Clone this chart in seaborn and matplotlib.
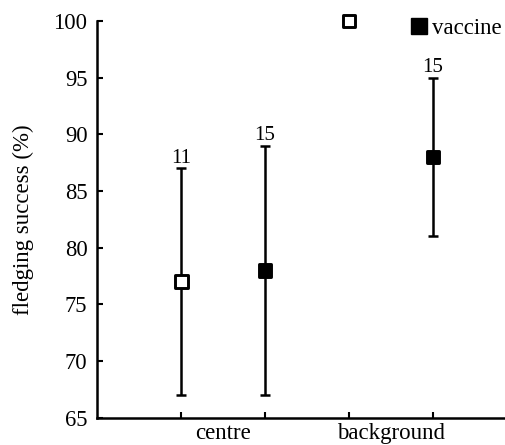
import seaborn as sns
import pandas as pd
import matplotlib.pyplot as plt
from matplotlib.lines import Line2D

# values
sites = ['centre', 'centre', 'background', 'background']
groups = ['control', 'vaccine', 'control', 'vaccine']
means = [77, 78, 100, 88]
lows = [67, 67, 100, 81]
highs = [87, 89, 100, 95]
n_labels = ['11', '15', '', '15']
site_names = ['centre', 'background']

df = pd.DataFrame({'site': sites, 'group': groups, 'mean': means,
                   'low': lows, 'high': highs, 'n': n_labels})
df['pos'] = range(len(df))

sns.set_style('ticks', {'axes.edgecolor': 'black', 'xtick.color': 'black',
                        'ytick.color': 'black', 'text.color': 'black',
                        'axes.labelcolor': 'black'})
plt.rcParams['font.family'] = ['Liberation Serif', 'DejaVu Serif']

fig = plt.figure(figsize=(5.06, 4.45), dpi=100)
ax = fig.add_axes([0.192, 0.061, 0.808, 0.892])

# error bars
for _, r in df.iterrows():
    if r['high'] > r['low']:
        ax.errorbar(r['pos'], r['mean'],
                    yerr=[[r['mean'] - r['low']], [r['high'] - r['mean']]],
                    fmt='none', ecolor='black', elinewidth=1.8,
                    capsize=3.8, capthick=1.8, zorder=1)
    if r['n']:
        ax.text(r['pos'], r['high'] + 0.05, r['n'], ha='center', va='bottom',
                fontsize=15)

sns.scatterplot(data=df, x='pos', y='mean', style='group',
                markers={'control': 's', 'vaccine': 's'},
                hue='group', palette={'control': 'white', 'vaccine': 'black'},
                edgecolor='black', linewidth=2.1, s=85, legend=False,
                zorder=3, clip_on=False, ax=ax)

ax.set_xlim(-1, 3.87)
ax.set_ylim(65, 100)
ax.set_yticks(range(65, 101, 5))
ax.set_xticks(df['pos'])
ax.set_xticklabels([])
ax.tick_params(direction='in', length=4, width=1.5, labelsize=16.3)
ax.tick_params(axis='y', pad=7)
for s in ['left', 'bottom']:
    ax.spines[s].set_linewidth(1.8)
sns.despine(ax=ax)
ax.set_xlabel('')
ax.set_ylabel('fledging success (%)', fontsize=16.5)
ax.yaxis.set_label_coords(-0.155, 0.5)

# group labels under the tick pairs
for i, name in enumerate(site_names):
    ax.text(2 * i + 0.5, -0.012, name, transform=ax.get_xaxis_transform(),
            ha='center', va='top', fontsize=16.5)

handle = Line2D([], [], marker='s', color='black', linestyle='none',
                markersize=11)
ax.legend([handle], ['vaccine'], loc='upper right', frameon=False,
          bbox_to_anchor=(1.04, 1.06), handletextpad=0.15, handlelength=0.8,
          fontsize=16.5)

fig.savefig('out.png', dpi=100)
